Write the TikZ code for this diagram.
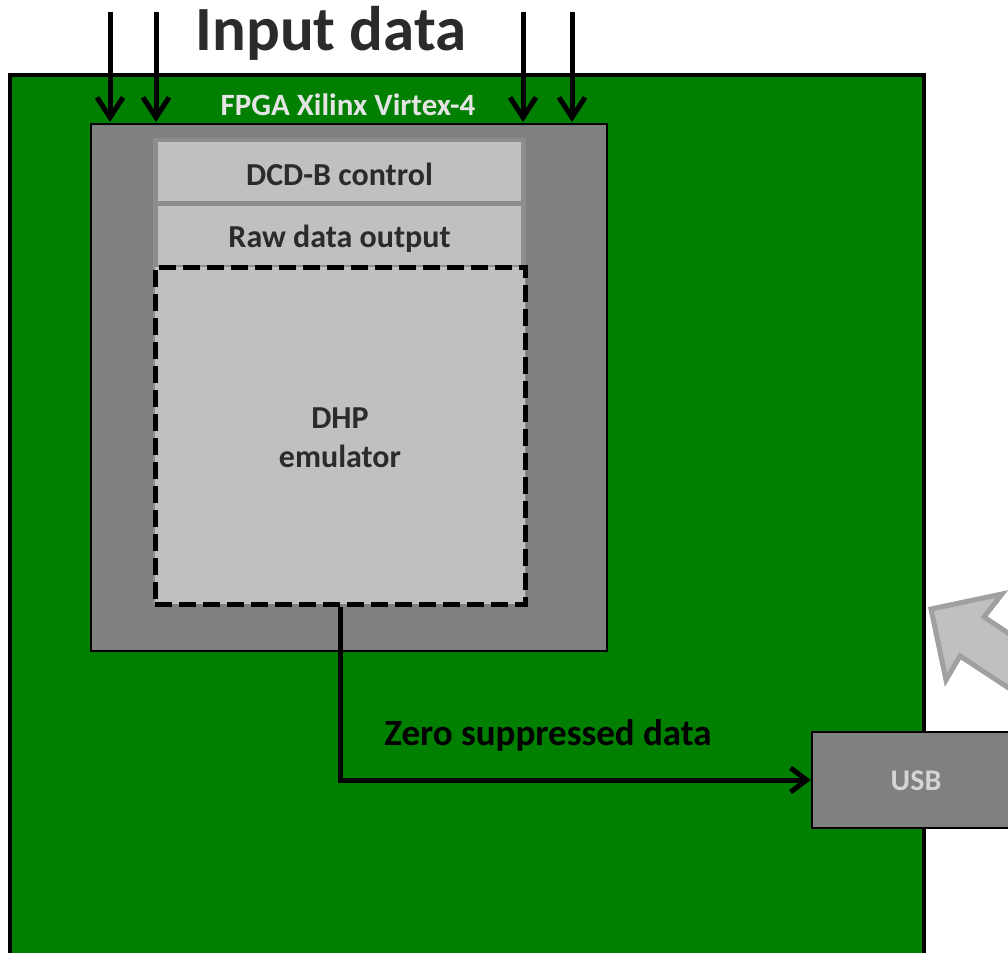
\documentclass[tikz,border=0pt]{standalone}
\usepackage{fontspec}
\setmainfont{Carlito}
\usetikzlibrary{arrows.meta}
\definecolor{board}{HTML}{007F00}
\definecolor{chip}{HTML}{808080}
\definecolor{chipin}{HTML}{8D8D8D}
\definecolor{block}{HTML}{C0C0C0}
\definecolor{blockedge}{HTML}{A0A0A0}
\definecolor{ink}{HTML}{2B2B2B}
\definecolor{pale}{HTML}{E4E4E4}
\definecolor{usbtext}{HTML}{D4D4D4}
\tikzset{
  boardbox/.style={draw=black,line width=3.5pt,fill=board,inner sep=0pt,minimum width=914pt,minimum height=925pt},
  chipbox/.style={draw=black,line width=2.5pt,fill=chip,inner sep=0pt},
  blockbox/.style={fill=block,inner sep=0pt},
  dashbox/.style={draw=black,line width=5pt,dash pattern=on 17pt off 7pt,fill=block,inner sep=0pt},
  label/.style={font=\bfseries,inner sep=0pt,align=center},
  feed/.style={line width=5pt,-{Straight Barb[length=20pt,width=26pt,line width=5pt]}},
  link/.style={line width=5pt,-{Straight Barb[length=16pt,width=24pt,line width=5pt]}},
}
\newcommand{\fsz}[2]{\bfseries\fontsize{#1}{#2}\selectfont}
\begin{document}
\begin{tikzpicture}[x=1pt,y=-1pt]
\useasboundingbox (0,0) rectangle (1008,952);
\clip (0,0) rectangle (1008,952);

% board
\node[boardbox] (board) at (467,537.5) {};

% FPGA package and its blocks
\node[chipbox,minimum width=516pt,minimum height=527pt] (fpga) at (349,387.5) {};
\node[fill=chipin,inner sep=0pt,minimum width=373pt,minimum height=466pt] (core) at (339.5,371) {};
\node[blockbox,minimum width=363pt,minimum height=59pt] (dcd) at (339.5,171.5) {};
\node[blockbox,minimum width=363pt,minimum height=59pt] (raw) at (339.5,235.5) {};
\node[dashbox,minimum width=370pt,minimum height=337pt] (dhp) at (340,435.5) {};

% USB interface
\node[chipbox,minimum width=300pt,minimum height=96pt] (usb) at (962,780) {};

% block arrow entering from the right
\filldraw[fill=block,draw=blockedge,line width=5pt,line join=miter]
  (931,609) -- (1002,594) -- (984,617) -- (1100,694) -- (1100,748)
  -- (960,656) -- (946,680) -- cycle;

% input lines
\foreach \n/\x in {a/110,b/156,c/523,d/572}{
  \coordinate (in\n) at (\x,12);
  \coordinate (pin\n) at (\x,122);
  \draw[feed] (in\n) -- (pin\n);
}

% output path
\draw[link,line join=miter] (dhp.south) |- (usb.west);

% labels
\node[label,text=ink,font=\fsz{63pt}{63pt}] (title) at (331,33) {Input data};
\node[label,text=pale,font=\fsz{31pt}{31pt}] (chipname) at (348,105) {FPGA Xilinx Virtex-4};
\node[label,text=ink,font=\fsz{32pt}{32pt}] (dcdname) at (339.5,174) {DCD-B control};
\node[label,text=ink,font=\fsz{32pt}{32pt}] (rawname) at (339.5,239) {Raw data output};
\node[label,text=ink,font=\fsz{32pt}{39pt}] (dhpname) at (340,438) {DHP\\emulator};
\node[label,text=black,font=\fsz{37pt}{37pt}] (zsd) at (548,735) {Zero suppressed data};
\node[label,text=usbtext,font=\fsz{30pt}{30pt}] (usbname) at (916,781) {USB};
\end{tikzpicture}
\end{document}
